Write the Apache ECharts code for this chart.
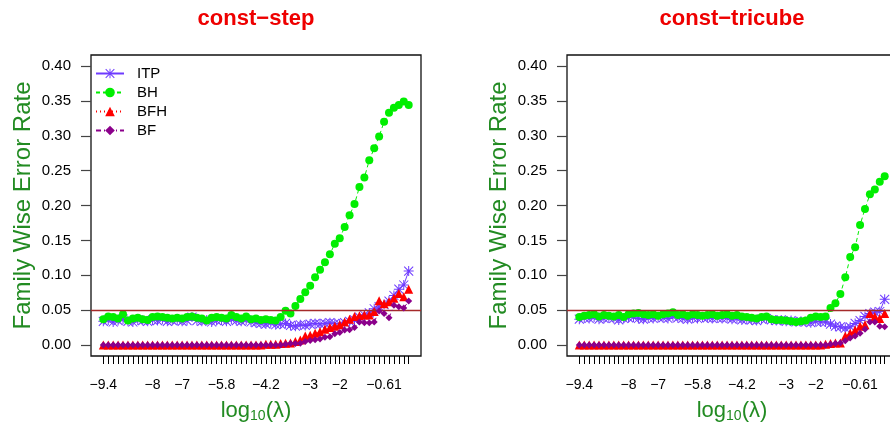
<!DOCTYPE html>
<html>
<head>
<meta charset="utf-8">
<title>Family Wise Error Rate</title>
<script src="https://cdn.jsdelivr.net/npm/echarts@6/dist/echarts.min.js"></script>
<style>
  html, body { margin: 0; padding: 0; background: #fff; }
  #main { width: 890px; height: 437px; }
</style>
</head>
<body>
<div id="main"></div>
<script>
// panel titles and method names
var panelTitles = ['const−step', 'const−tricube'];
var seriesNames = ['ITP', 'BH', 'BFH', 'BF'];

// x axis: 63 lambda values, labelled only at a few of them
var labelIdx = [0, 10, 16, 24, 33, 42, 48, 57];
var labelText = ['−9.4', '−8', '−7', '−5.8', '−4.2', '−3', '−2', '−0.61'];
var yTicks = [0, 0.05, 0.10, 0.15, 0.20, 0.25, 0.30, 0.35, 0.40];
var alpha = 0.05;

// const-step
var itpStep = [
  0.034, 0.036, 0.033, 0.035, 0.037, 0.034, 0.033, 0.036, 0.035, 0.034,
  0.036, 0.035, 0.037, 0.034, 0.035, 0.036, 0.034, 0.035, 0.040, 0.035,
  0.034, 0.036, 0.033, 0.035, 0.036, 0.034, 0.037, 0.035, 0.034, 0.036,
  0.033, 0.032, 0.031, 0.030, 0.032, 0.029, 0.030, 0.031, 0.028, 0.027,
  0.029, 0.028, 0.030, 0.031, 0.030, 0.031, 0.032, 0.031, 0.030, 0.032,
  0.034, 0.036, 0.040, 0.043, 0.046, 0.052, 0.055, 0.058, 0.063, 0.071,
  0.080, 0.086, 0.106
];
var bhStep = [
  0.037, 0.041, 0.040, 0.038, 0.044, 0.035, 0.038, 0.039, 0.037, 0.036,
  0.040, 0.041, 0.040, 0.039, 0.038, 0.039, 0.038, 0.040, 0.041, 0.039,
  0.038, 0.035, 0.039, 0.040, 0.039, 0.038, 0.043, 0.040, 0.038, 0.041,
  0.037, 0.038, 0.036, 0.037, 0.036, 0.035, 0.040, 0.049, 0.045, 0.056,
  0.066, 0.0755, 0.085, 0.097, 0.108, 0.1185, 0.130, 0.145, 0.153, 0.169,
  0.186, 0.202, 0.2265, 0.240, 0.265, 0.282, 0.299, 0.320, 0.333, 0.340,
  0.344, 0.349, 0.344
];
var bfhStep = [
  0, 0, 0, 0, 0, 0, 0, 0, 0, 0,
  0, 0, 0, 0, 0, 0, 0, 0, 0, 0,
  0, 0, 0, 0, 0, 0, 0, 0, 0, 0,
  0, 0, 0, 0.001, 0.001, 0.001, 0.002, 0.0025, 0.003, 0.005,
  0.007, 0.013, 0.014, 0.017, 0.019, 0.0225, 0.025, 0.027, 0.029, 0.033,
  0.037, 0.041, 0.042, 0.043, 0.043, 0.048, 0.0635, 0.059, 0.062, 0.067,
  0.074, 0.069, 0.080
];
var bfStep = [
  0, 0, 0, 0, 0, 0, 0, 0, 0, 0,
  0, 0, 0, 0, 0, 0, 0, 0, 0, 0,
  0, 0, 0, 0, 0, 0, 0, 0, 0, 0,
  0, 0, 0, 0, 0, 0, 0, 0.001, 0.002, 0.002,
  0.0025, 0.005, 0.0065, 0.0075, 0.0085, 0.011, 0.012, 0.016, 0.018, 0.0215,
  0.022, 0.025, 0.033, 0.032, 0.032, 0.033, 0.0487, 0.045, 0.039, 0.057,
  0.055, 0.053, 0.063
];

// const-tricube
var itpTri = [
  0.037, 0.039, 0.038, 0.040, 0.037, 0.038, 0.039, 0.038, 0.036, 0.038,
  0.039, 0.040, 0.038, 0.037, 0.039, 0.038, 0.040, 0.039, 0.038, 0.041,
  0.039, 0.038, 0.037, 0.039, 0.038, 0.040, 0.039, 0.038, 0.039, 0.038,
  0.039, 0.037, 0.038, 0.036, 0.037, 0.036, 0.035, 0.037, 0.038, 0.036,
  0.035, 0.036, 0.034, 0.035, 0.033, 0.034, 0.033, 0.032, 0.034, 0.033,
  0.033, 0.030, 0.027, 0.026, 0.024, 0.026, 0.031, 0.035, 0.041, 0.045,
  0.047, 0.048, 0.0655
];
var bhTri = [
  0.040, 0.042, 0.043, 0.044, 0.041, 0.043, 0.042, 0.041, 0.043, 0.040,
  0.044, 0.045, 0.046, 0.044, 0.043, 0.044, 0.042, 0.044, 0.045, 0.047,
  0.043, 0.044, 0.042, 0.044, 0.043, 0.042, 0.043, 0.044, 0.042, 0.043,
  0.044, 0.042, 0.043, 0.041, 0.040, 0.039, 0.038, 0.040, 0.041, 0.037,
  0.036, 0.036, 0.035, 0.034, 0.033, 0.034, 0.035, 0.039, 0.041, 0.040,
  0.041, 0.053, 0.060, 0.073, 0.097, 0.126, 0.140, 0.172, 0.195, 0.216,
  0.223, 0.234, 0.242
];
var bfhTri = [
  0, 0, 0, 0, 0, 0, 0, 0, 0, 0,
  0, 0, 0, 0, 0, 0, 0, 0, 0, 0,
  0, 0, 0, 0, 0, 0, 0, 0, 0, 0,
  0, 0, 0, 0, 0, 0, 0, 0, 0, 0,
  0, 0, 0, 0, 0, 0, 0, 0, 0, 0,
  0.001, 0.002, 0.003, 0.003, 0.013, 0.017, 0.0215, 0.027, 0.029, 0.045,
  0.041, 0.038, 0.045
];
var bfTri = [
  0, 0, 0, 0, 0, 0, 0, 0, 0, 0,
  0, 0, 0, 0, 0, 0, 0, 0, 0, 0,
  0, 0, 0, 0, 0, 0, 0, 0, 0, 0,
  0, 0, 0, 0, 0, 0, 0, 0, 0, 0,
  0, 0, 0, 0, 0, 0, 0, 0, 0, 0,
  0, 0.001, 0.002, 0.003, 0.006, 0.010, 0.013, 0.017, 0.0225, 0.033,
  0.033, 0.027, 0.026
];

var panelData = [
  [itpStep, bhStep, bfhStep, bfStep],
  [itpTri, bhTri, bfhTri, bfTri]
];

var FONT = '"Liberation Sans", Arial, sans-serif';
var GREEN_LAB = '#228b22';
var asterisk = 'path://M0,9L20,9L20,11L0,11Z M9,0L11,0L11,20L9,20Z ' +
  'M1.7,0.3L19.7,18.3L18.3,19.7L0.3,1.7Z M18.3,0.3L19.7,1.7L1.7,19.7L0.3,18.3Z';

var look = {
  ITP: { color: '#6e3bff', symbol: asterisk, size: 10, dash: 'solid' },
  BH:  { color: '#00ee00', symbol: 'circle', size: 8, dash: [4, 3] },
  BFH: { color: '#ff0000', symbol: 'triangle', size: 9, dash: [1, 3] },
  BF:  { color: '#8b008b', symbol: 'diamond', size: 7, dash: [5, 3, 1, 3] }
};

var nPts = itpStep.length;
var allIdx = [];
for (var i = 0; i < nPts; i++) allIdx.push(i);

// plot box geometry (pixels)
var boxLeft = [91, 567];
var boxTop = 55, boxW = 330, boxH = 301;
// 0.40 sits 11px below the box top, 0.00 11px above the bottom
var pad = 11 * 0.4 / (boxH - 22);

var grids = [], xAxes = [], yAxes = [], series = [], graphics = [];

for (var p = 0; p < 2; p++) {
  grids.push({
    left: boxLeft[p], top: boxTop, width: boxW, height: boxH,
    outerBoundsMode: 'none', containLabel: false,
    show: true, borderColor: '#111', borderWidth: 1.3, backgroundColor: 'transparent'
  });

  xAxes.push({
    type: 'value', gridIndex: p, min: -2.5, max: nPts - 1 + 2.5,
    splitLine: { show: false },
    axisLine: { show: false, onZero: false },
    axisTick: { show: true, inside: false, length: 8, customValues: allIdx, lineStyle: { color: '#000', width: 1 } },
    axisLabel: {
      customValues: labelIdx, margin: 22, fontSize: 14, color: '#000', fontFamily: FONT,
      formatter: function (v) { return labelText[labelIdx.indexOf(v)]; }
    },
    name: 'log{sub|10}(λ)', nameLocation: 'middle', nameGap: 43,
    nameTextStyle: {
      color: GREEN_LAB, fontSize: 22, fontFamily: FONT,
      rich: { sub: { fontSize: 14, color: GREEN_LAB, fontFamily: FONT, padding: [10, 0, 0, 0] } }
    }
  });

  yAxes.push({
    type: 'value', gridIndex: p, min: -pad, max: 0.4 + pad,
    splitLine: { show: false },
    axisLine: { show: false, onZero: false },
    axisTick: { show: true, inside: false, length: 10, customValues: yTicks, lineStyle: { color: '#444', width: 1.2 } },
    axisLabel: {
      customValues: yTicks, margin: 20, fontSize: 15, color: '#000', fontFamily: FONT,
      formatter: function (v) { return v.toFixed(2); }
    },
    name: 'Family Wise Error Rate', nameLocation: 'middle', nameGap: 56,
    nameTextStyle: { color: GREEN_LAB, fontSize: 24, fontFamily: FONT }
  });

  seriesNames.forEach(function (name, k) {
    var st = look[name];
    var s = {
      name: name, type: 'line', xAxisIndex: p, yAxisIndex: p,
      data: panelData[p][k].map(function (v, j) { return [j, v]; }),
      symbol: st.symbol, symbolSize: st.size, showAllSymbol: true,
      itemStyle: { color: st.color },
      lineStyle: { color: st.color, width: 1, type: st.dash },
      emphasis: { disabled: true },
      z: 2 + k
    };
    if (k === 0) {
      s.markLine = {
        silent: true, symbol: ['none', 'none'], label: { show: false },
        lineStyle: { color: '#a52a2a', width: 1.3, type: 'solid' },
        data: [{ yAxis: alpha }]
      };
    }
    series.push(s);
  });

  graphics.push({
    type: 'text', x: boxLeft[p] + boxW / 2, y: 19,
    style: {
      text: panelTitles[p], fill: '#ee0000', font: 'bold 22px ' + FONT,
      textAlign: 'center', textVerticalAlign: 'middle'
    }
  });
}

var chart = echarts.init(document.getElementById('main'));
chart.setOption({
  animation: false,
  backgroundColor: '#fff',
  grid: grids,
  xAxis: xAxes,
  yAxis: yAxes,
  legend: {
    data: seriesNames, orient: 'vertical', left: 90, top: 61,
    itemWidth: 28, itemHeight: 12, itemGap: 4, selectedMode: false,
    textStyle: { fontSize: 15, color: '#000', fontFamily: FONT, padding: [0, 0, 0, 8] }
  },
  graphic: graphics,
  series: series
});
</script>
</body>
</html>
